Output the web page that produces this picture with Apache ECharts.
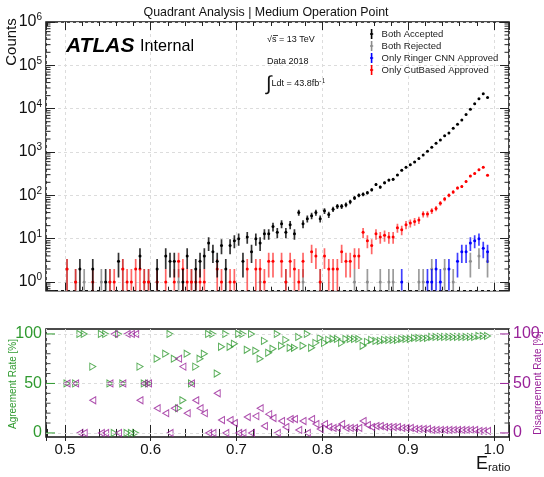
<!DOCTYPE html>
<html>
<head>
<meta charset="utf-8">
<title>Quadrant Analysis</title>
<script src="https://cdn.jsdelivr.net/npm/echarts@6/dist/echarts.min.js"></script>
<style>
    html, body { margin: 0; padding: 0; background: #fff; }
    #main { width: 544px; height: 477px; }
</style>
</head>
<body>
<div id="main"></div>
<script>
// bins of E_ratio, centre of bin i = binStart + binWidth * i
var binStart = 0.5025, binWidth = 0.005;

// counts per bin (null = empty bin)
var bothAccepted = [
    null, null, null, 2, null, null, 2, null, null, 1,
    null, null, 3, null, null, null, null, 4, null, null,
    null, 2, null, 4, 3, 3, null, 1, 4, null,
    2, 3, 4, 8, 5, 3, 7, 2, 7, 9,
    10, 3, 11, 5, 10, 8, 13, 13, 19, 14,
    22, 14, 21, 13, 40, 22, 29, 34, 40, 29,
    44, 36, 48, 56, 56, 61, 71, 87, 100, 106,
    115, 135, 177, 155, 195, 225, 234, 295, 380, 445,
    510, 590, 710, 850, 1040, 1290, 1590, 1900, 2380, 2750,
    3530, 4370, 5460, 7300, 9700, 13000, 17000, 22000, 18000
];
var bothRejected = [
    2, null, 1, null, 1, null, null, null, 1, null,
    1, null, null, 2, null, null, null, null, 1, 1,
    null, 1, null, null, null, null, 1, null, null, 1,
    null, null, null, null, null, null, null, null, null, null,
    null, null, null, null, null, 1, null, null, null, null,
    null, 1, null, null, null, 1, null, null, null, 1,
    null, null, null, null, null, null, null, 1, null, null,
    1, null, null, 1, null, 1, 1, null, null, null,
    null, null, 1, 1, null, 2, null, null, 2, null,
    1, null, null, null, 3, null, 4, null, 3
];
var onlyRinger = [
    null, null, null, null, null, null, null, null, null, null,
    null, null, null, null, null, null, null, null, null, null,
    null, null, null, null, null, null, null, null, null, null,
    null, null, null, null, null, null, null, null, null, null,
    null, null, null, null, null, null, null, null, null, null,
    null, null, null, null, null, null, null, null, null, null,
    null, null, null, null, null, null, null, null, null, null,
    null, null, null, null, null, null, null, null, 1, null,
    null, null, null, null, 1, 1, 2, 1, null, 2,
    null, 3, 5, 5, 8, 9, 10, 6, 5
];
var onlyCutBased = [
    2, null, 1, null, null, null, 1, null, null, null,
    1, 1, null, 2, 1, 1, 2, 2, 1, 1,
    null, 1, null, 1, null, 1, 3, 2, 1, 1,
    1, 1, 1, null, null, 2, 1, null, 1, 1,
    null, null, 2, null, 2, 2, 1, 3, 3, null,
    3, 1, 3, 2, 1, 3, null, 5, 4, 1,
    4, 2, 2, 2, 5, 3, 3, 4, 4, 14,
    9, 7, 13, 11, 12, 11, 11, 18, 16, 21,
    23, 25, 27, 37, 37, 44, 50, 66, 82, 101,
    120, 148, 160, 210, 280, 320, 390, 445, 292
];

// rates in %
var agreementRate = [
    50, null, 50, 100, 100, null, 67, null, 100, 100,
    50, 0, 100, 50, 0, 0, 0, 67, 50, 50,
    null, 75, null, 80, 100, 75, 25, 33, 80, 50,
    67, 75, 80, 100, 100, 60, 87, 100, 87, 90,
    100, 100, 84, 100, 83, 75, 93, 81, 85, 100,
    88, 94, 86, 86, 97, 88, 100, 86, 91, 96,
    91, 94, 95, 95, 91, 95, 95, 95, 95, 88,
    92, 94, 93, 93, 94, 94, 94, 94, 95, 95,
    95, 96, 96, 96, 96, 97, 97, 97, 97, 97,
    97, 97, 97, 97, 97, 97, 98, 98, 98
];
var disagreementRate = [
    50, null, 50, 0, 0, null, 33, null, 0, 0,
    50, 100, 0, 50, 100, 100, 100, 33, 50, 50,
    null, 25, null, 20, 0, 25, 75, 67, 20, 50,
    33, 25, 20, 0, 0, 40, 13, 0, 13, 10,
    0, 0, 16, 0, 17, 25, 7, 19, 15, 0,
    12, 6, 14, 14, 3, 12, 0, 14, 9, 4,
    9, 6, 5, 5, 9, 5, 5, 5, 5, 12,
    8, 6, 7, 7, 6, 6, 6, 6, 5, 5,
    5, 4, 4, 4, 4, 3, 3, 3, 3, 3,
    3, 3, 3, 3, 3, 3, 2, 2, 2
];

var rateMajor = [0, 50, 100];
var rateMinor = [10, 20, 30, 40, 60, 70, 80, 90];

var xMin = 0.478, xMax = 1.0175;
var yMin = 0.631, yMax = 1e6;
var FONT = 'Liberation Sans, Arial, Helvetica, sans-serif';
var GREEN = '#2f9a2f', PURPLE = '#992299';
var gridDash = { color: '#dcdcdc', type: [3, 3], width: 1 };

// minor ticks of the log axis: 2..9 x 10^k
var logMinor = [0.7, 0.8, 0.9];
for (var k = 0; k < 6; k++) {
    for (var m = 2; m <= 9; m++) logMinor.push(m * Math.pow(10, k));
}

function points(values) {
    var out = [];
    for (var i = 0; i < values.length; i++) {
        if (values[i] != null) out.push([binStart + binWidth * i, values[i]]);
    }
    return out;
}

function countSeries(name, color, barColor, values) {
    return {
        name: name,
        type: 'custom',
        xAxisIndex: 0,
        yAxisIndex: 0,
        clip: true,
        itemStyle: { color: color },
        data: points(values),
        renderItem: function (params, api) {
            var x = api.value(0), n = api.value(1), e = Math.sqrt(n);
            var p = api.coord([x, n]);
            var lo = api.coord([x, Math.max(n - e, yMin)]);
            var hi = api.coord([x, n + e]);
            return {
                type: 'group',
                children: [{
                    type: 'line',
                    shape: { x1: p[0], y1: lo[1], x2: p[0], y2: hi[1] },
                    style: { stroke: barColor, lineWidth: 1.7 }
                }, {
                    type: 'circle',
                    shape: { cx: p[0], cy: p[1], r: 1.5 },
                    style: { fill: color }
                }]
            };
        }
    };
}

// little ticks on the left and right frame edges
function tickSeries(xIdx, yIdx, values, len, leftColor, rightColor) {
    return {
        type: 'custom',
        xAxisIndex: xIdx,
        yAxisIndex: yIdx,
        silent: true,
        z: 6,
        data: values.map(function (v) { return [xMin, v]; }),
        renderItem: function (params, api) {
            var cs = params.coordSys;
            var y = api.coord([xMin, api.value(1)])[1];
            return {
                type: 'group',
                children: [{
                    type: 'line',
                    shape: { x1: cs.x, y1: y, x2: cs.x + len, y2: y },
                    style: { stroke: leftColor, lineWidth: 1 }
                }, {
                    type: 'line',
                    shape: { x1: cs.x + cs.width, y1: y, x2: cs.x + cs.width - len, y2: y },
                    style: { stroke: rightColor, lineWidth: 1 }
                }]
            };
        }
    };
}

var triRight = 'path://M0,0 L10,5 L0,10 Z';
var triLeft = 'path://M10,0 L0,5 L10,10 Z';

var xTicks = {
    show: true, inside: true, length: 8, lineStyle: { color: '#222' }
};
var xMinor = {
    show: true, splitNumber: 5, length: 4, lineStyle: { color: '#222' }
};

function logLabel(v) {
    var l = Math.log10(v), p = Math.round(l);
    if (Math.abs(l - p) > 1e-6) return '';
    return '{b|10}{s|' + p + '}';
}

var chart = echarts.init(document.getElementById('main'));
var option = {
    animation: false,
    textStyle: { fontFamily: FONT },
    grid: [{
        left: 46, right: 35, top: 22, height: 268.7,
        show: true, borderColor: '#111', borderWidth: 1.5
    }, {
        left: 46, right: 35, top: 329, height: 108,
        show: true, borderColor: '#111', borderWidth: 1.5
    }],
    legend: {
        orient: 'vertical',
        left: 365,
        top: 24,
        itemWidth: 10,
        itemHeight: 10,
        itemGap: 2,
        icon: 'path://M4.2,0 H5.8 V10 H4.2 Z M3.4,4.2 H6.6 V5.8 H3.4 Z',
        textStyle: { fontSize: 9.5, color: '#222', fontFamily: FONT },
        data: ['Both Accepted', 'Both Rejected', 'Only Ringer CNN Approved', 'Only CutBased Approved']
    },
    xAxis: [{
        gridIndex: 0, type: 'value', min: xMin, max: xMax, position: 'bottom',
        axisLine: { show: false }, axisLabel: { show: false },
        axisTick: xTicks, minorTick: xMinor,
        splitLine: { show: true, lineStyle: gridDash }
    }, {
        gridIndex: 0, type: 'value', min: xMin, max: xMax, position: 'top',
        axisLine: { show: false }, axisLabel: { show: false },
        axisTick: xTicks, minorTick: xMinor, splitLine: { show: false }
    }, {
        gridIndex: 1, type: 'value', min: xMin, max: xMax, position: 'bottom',
        axisLine: { show: false },
        axisLabel: {
            fontSize: 15, color: '#111', margin: 5, showMinLabel: false, showMaxLabel: false,
            formatter: function (v) { return v.toFixed(1); }
        },
        axisTick: xTicks, minorTick: xMinor,
        splitLine: { show: true, lineStyle: gridDash }
    }, {
        gridIndex: 1, type: 'value', min: xMin, max: xMax, position: 'top',
        axisLine: { show: false }, axisLabel: { show: false },
        axisTick: xTicks, minorTick: xMinor, splitLine: { show: false }
    }],
    yAxis: [{
        gridIndex: 0, type: 'log', logBase: 10, min: yMin, max: yMax, position: 'left',
        axisLine: { show: false },
        axisTick: { show: true, inside: true, length: 9, lineStyle: { color: '#222' } },
        axisLabel: {
            margin: 4, formatter: logLabel, color: '#111',
            rich: {
                b: { fontSize: 16, color: '#111', fontFamily: FONT },
                s: { fontSize: 10, color: '#111', fontFamily: FONT, padding: [0, 0, 9, 0] }
            }
        },
        splitLine: { show: true, lineStyle: gridDash }
    }, {
        gridIndex: 0, type: 'log', logBase: 10, min: yMin, max: yMax, position: 'right',
        axisLine: { show: false }, axisLabel: { show: false },
        axisTick: { show: true, inside: true, length: 9, lineStyle: { color: '#222' } },
        splitLine: { show: false }
    }, {
        gridIndex: 1, type: 'value', min: -4.1, max: 105, position: 'left',
        axisLine: { show: false }, axisTick: { show: false }, splitLine: { show: false },
        axisLabel: { customValues: rateMajor, fontSize: 16, color: GREEN, margin: 4 }
    }, {
        gridIndex: 1, type: 'value', min: -4.1, max: 105, position: 'right',
        axisLine: { show: false }, axisTick: { show: false }, splitLine: { show: false },
        axisLabel: { customValues: rateMajor, fontSize: 16, color: PURPLE, margin: 4 }
    }],
    series: [
        countSeries('Both Rejected', '#8c8c8c', 'rgba(130,130,130,0.8)', bothRejected),
        countSeries('Only CutBased Approved', '#ff0000', 'rgba(255,0,0,0.6)', onlyCutBased),
        countSeries('Only Ringer CNN Approved', '#0000ff', 'rgba(0,0,255,0.75)', onlyRinger),
        countSeries('Both Accepted', '#000000', 'rgba(0,0,0,0.8)', bothAccepted),
        tickSeries(0, 0, logMinor, 4.5, '#222', '#222'),
        tickSeries(2, 2, rateMajor, 9, GREEN, PURPLE),
        tickSeries(2, 2, rateMinor, 4.5, '#444', '#444'),
        {
            name: 'Agreement Rate',
            type: 'scatter',
            xAxisIndex: 2,
            yAxisIndex: 2,
            symbol: triRight,
            symbolSize: [6, 7],
            itemStyle: { color: 'rgba(0,0,0,0)', borderColor: GREEN, borderWidth: 1 },
            data: points(agreementRate),
            markLine: {
                silent: true,
                symbol: 'none',
                label: { show: false },
                lineStyle: gridDash,
                data: rateMajor.map(function (v) { return { yAxis: v }; })
            },
            z: 4
        },
        {
            name: 'Disagreement Rate',
            type: 'scatter',
            xAxisIndex: 2,
            yAxisIndex: 3,
            symbol: triLeft,
            symbolSize: [6, 7],
            itemStyle: { color: 'rgba(0,0,0,0)', borderColor: PURPLE, borderWidth: 1 },
            data: points(disagreementRate),
            z: 4
        }
    ],
    graphic: [{
        type: 'text', x: 266, y: 13,
        style: {
            text: 'Quadrant Analysis | Medium Operation Point', font: '12.4px ' + FONT,
            fill: '#111', textAlign: 'center', textVerticalAlign: 'middle'
        }
    }, {
        type: 'text', x: 12, y: 42, rotation: Math.PI / 2,
        style: {
            text: 'Counts', font: '15px ' + FONT, fill: '#111',
            textAlign: 'center', textVerticalAlign: 'middle'
        }
    }, {
        type: 'text', x: 66, y: 46,
        style: {
            text: 'ATLAS', font: 'italic bold 21px ' + FONT, fill: '#000',
            textVerticalAlign: 'middle'
        }
    }, {
        type: 'text', x: 140, y: 47,
        style: {
            text: 'Internal', font: '16.2px ' + FONT, fill: '#000',
            textVerticalAlign: 'middle'
        }
    }, {
        type: 'text', x: 267, y: 40,
        style: { text: '\u221As = 13 TeV', font: '9px ' + FONT, fill: '#111', textVerticalAlign: 'middle' }
    }, {
        type: 'line', shape: { x1: 273, y1: 35.5, x2: 278, y2: 35.5 },
        style: { stroke: '#111', lineWidth: 0.8 }
    }, {
        type: 'text', x: 267, y: 62,
        style: { text: 'Data 2018', font: '9px ' + FONT, fill: '#111', textVerticalAlign: 'middle' }
    }, {
        type: 'text', x: 266, y: 84,
        style: {
            text: '{i|\u222B}{t|Ldt = 43.8fb}{s|-1}', textVerticalAlign: 'middle',
            rich: {
                i: { fontSize: 20, fontFamily: FONT, fill: '#111' },
                t: { fontSize: 9, fontFamily: FONT, fill: '#111' },
                s: { fontSize: 6.5, fontFamily: FONT, fill: '#111', padding: [0, 0, 6, 0] }
            }
        }
    }, {
        type: 'text', x: 13, y: 384, rotation: Math.PI / 2,
        style: {
            text: 'Agreement Rate [%]', font: '10px ' + FONT, fill: GREEN,
            textAlign: 'center', textVerticalAlign: 'middle'
        }
    }, {
        type: 'text', x: 538, y: 383, rotation: Math.PI / 2,
        style: {
            text: 'Disagreement Rate [%]', font: '10px ' + FONT, fill: PURPLE,
            textAlign: 'center', textVerticalAlign: 'middle'
        }
    }, {
        type: 'text', x: 476, y: 464,
        style: {
            text: '{e|E}{r|ratio}', textVerticalAlign: 'middle',
            rich: {
                e: { fontSize: 18, fontFamily: FONT, fill: '#111' },
                r: { fontSize: 11.5, fontFamily: FONT, fill: '#111', padding: [8, 0, 0, 0] }
            }
        }
    }]
};
chart.setOption(option);
</script>
</body>
</html>
